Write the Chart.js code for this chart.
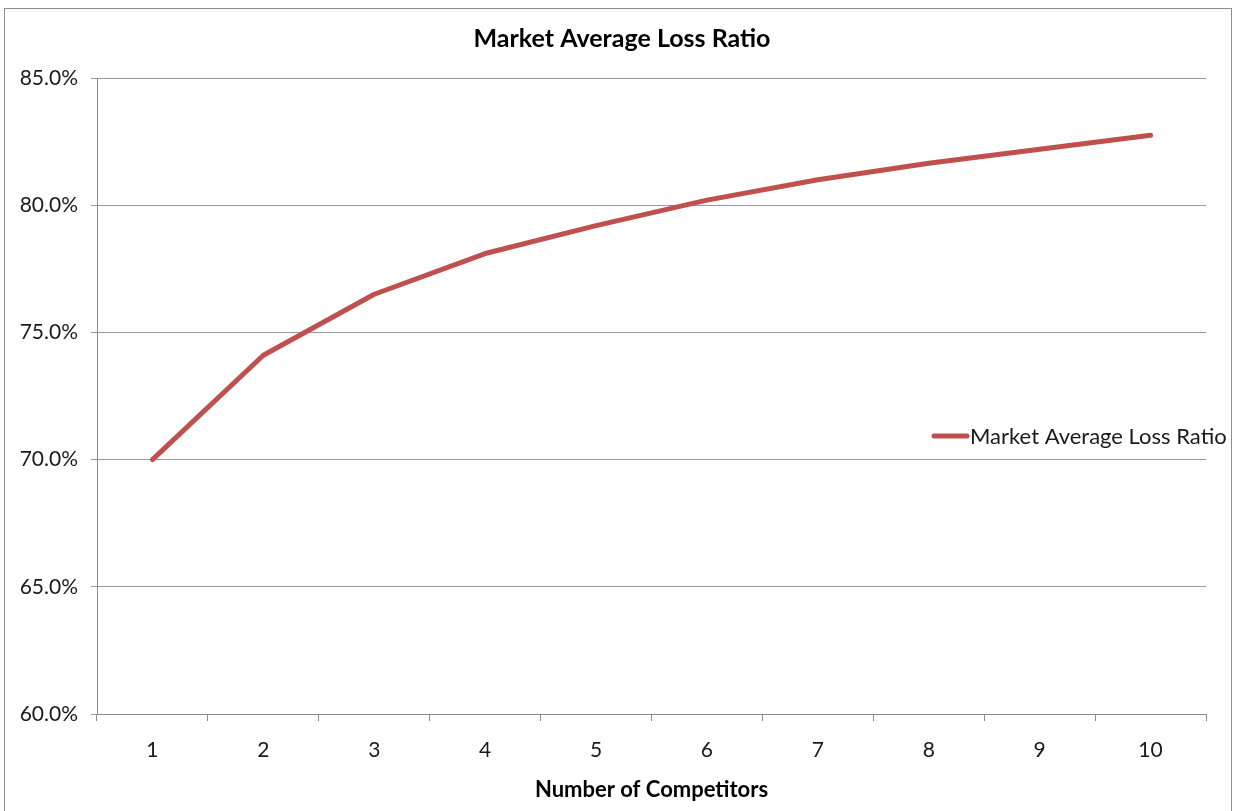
<!DOCTYPE html>
<html>
<head>
<meta charset="utf-8">
<script src="https://cdn.jsdelivr.net/npm/chart.js@4.4.0/dist/chart.umd.min.js"></script>
<style>
  html, body { margin: 0; padding: 0; background: #fff; }
  canvas { position: absolute; left: 0; top: 0; }
  .frame {
    position: absolute; left: 4px; top: 8px; width: 1228px; height: 820px;
    border: 1px solid #8e8e8e; box-sizing: border-box; pointer-events: none;
  }
</style>
</head>
<body>
<canvas id="lossChart" width="1234" height="811"></canvas>
<div class="frame"></div>
<script>
// chart data
const competitors = ["1", "2", "3", "4", "5", "6", "7", "8", "9", "10"];
const lossRatio = [70.0, 74.1, 76.5, 78.1, 79.2, 80.2, 81.0, 81.65, 82.2, 82.75];
const chartTitle = "Market Average Loss Ratio";
const seriesName = "Market Average Loss Ratio";
const xAxisTitle = "Number of Competitors";

const lineColor = "#c0504d";
const fontName = "Lato";

// title + overlaid legend (excel style, legend sits inside the plot)
const titleAndLegend = {
  id: "titleAndLegend",
  afterDraw(chart) {
    const ctx = chart.ctx;
    ctx.save();
    ctx.fillStyle = "#000";
    ctx.font = "bold 25px " + fontName;
    ctx.textAlign = "center";
    ctx.textBaseline = "middle";
    ctx.fillText(chartTitle, 622, 39);

    ctx.strokeStyle = lineColor;
    ctx.lineWidth = 5;
    ctx.lineCap = "round";
    ctx.beginPath();
    ctx.moveTo(934, 436);
    ctx.lineTo(967, 436);
    ctx.stroke();

    ctx.font = "22px " + fontName;
    ctx.textAlign = "left";
    ctx.fillStyle = "#1a1a1a";
    ctx.fillText(seriesName, 970, 437);
    ctx.restore();
  }
};

const config = {
  type: "line",
  data: {
    labels: competitors,
    datasets: [
      {
        label: seriesName,
        data: lossRatio,
        borderColor: lineColor,
        borderWidth: 5,
        borderCapStyle: "round",
        borderJoinStyle: "round",
        pointRadius: 0,
        tension: 0,
        fill: false,
      },
    ],
  },
  options: {
    responsive: false,
    animation: false,
    devicePixelRatio: 1,
    layout: { padding: { top: 78, right: 28, left: 0, bottom: 0 } },
    plugins: {
      legend: { display: false },
      title: { display: false },
      tooltip: { enabled: false },
    },
    scales: {
      x: {
        offset: true,
        grid: {
          offset: true,
          drawOnChartArea: false,
          drawTicks: true,
          tickLength: 7,
          color: "#8c8c8c",
        },
        border: { display: true, color: "#8c8c8c" },
        ticks: {
          color: "#1a1a1a",
          padding: 17,
          maxRotation: 0,
          font: { family: fontName, size: 21 },
        },
        title: {
          display: true,
          text: xAxisTitle,
          color: "#000",
          padding: { top: 0, bottom: 8 },
          font: { family: fontName, size: 22, weight: "bold" },
        },
        afterFit(scale) {
          scale.height = 97;
        },
      },
      y: {
        min: 60,
        max: 85,
        ticks: {
          stepSize: 5,
          color: "#1a1a1a",
          padding: 13,
          font: { family: fontName, size: 21 },
          callback: (v) => v.toFixed(1) + "%",
        },
        grid: {
          color: "#9a9a9a",
          drawTicks: true,
          tickLength: 6,
        },
        border: { display: true, color: "#8c8c8c" },
        afterFit(scale) {
          scale.width = 97;
        },
      },
    },
  },
  plugins: [titleAndLegend],
};

const lossChart = new Chart(document.getElementById("lossChart"), config);
</script>
</body>
</html>
